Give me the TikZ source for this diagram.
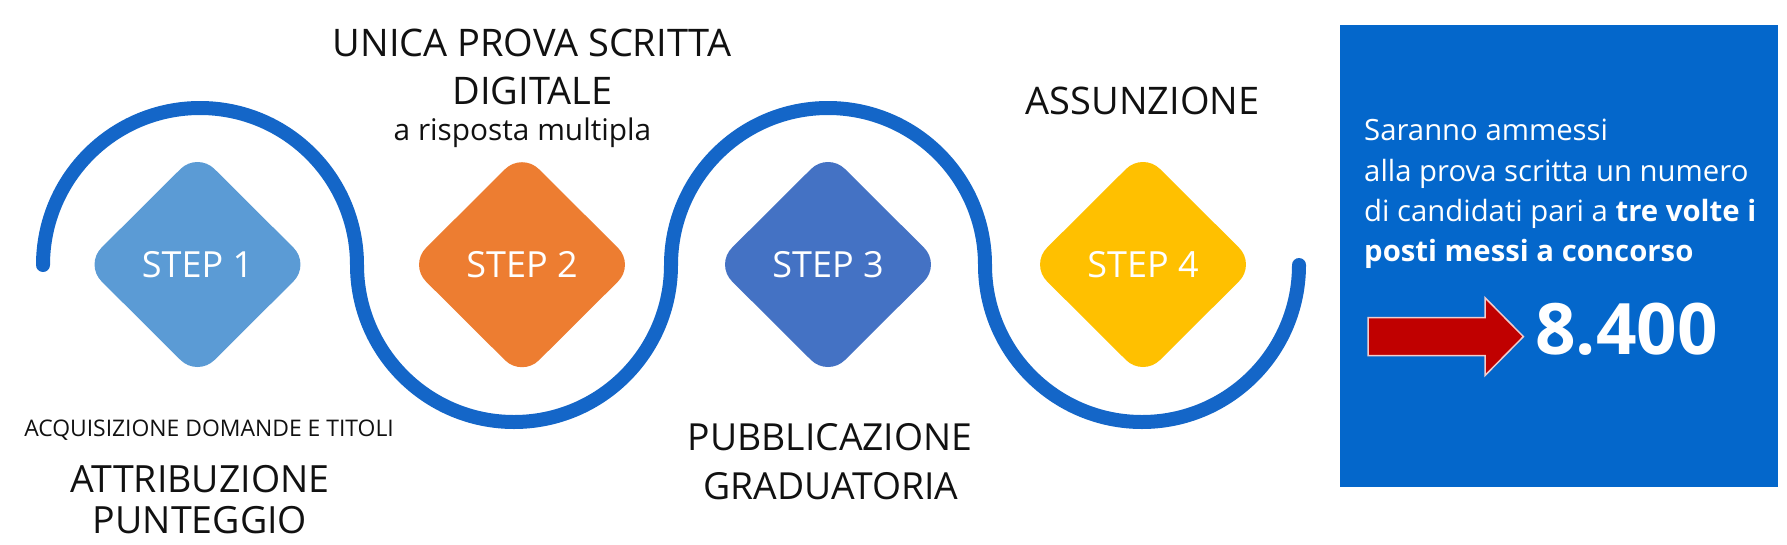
\documentclass[tikz,border=0pt]{standalone}
\usepackage{fontspec}
\setmainfont{Open Sans}
\usetikzlibrary{shapes.geometric}
\definecolor{wavecol}{HTML}{1466C8}
\definecolor{boxcol}{HTML}{0467CB}
\definecolor{stepa}{HTML}{5B9BD5}
\definecolor{stepb}{HTML}{ED7D31}
\definecolor{stepc}{HTML}{4472C4}
\definecolor{stepd}{HTML}{FFC000}
\definecolor{arrowred}{HTML}{C00000}
\definecolor{labelcol}{HTML}{111111}
\newcommand{\pxsize}[1]{\fontsize{#1pt}{#1pt}\selectfont}
\begin{document}
\begin{tikzpicture}[x=1pt,y=-1pt,
  stepbox/.style={diamond, rounded corners=24pt, minimum width=226pt, minimum height=225pt,
    inner sep=0pt, text=white, font=\pxsize{36}},
  lbl/.style={anchor=base, text=labelcol, inner sep=0pt},
  bigl/.style={lbl, font=\pxsize{38}},
  boxl/.style={anchor=base west, text=white, inner sep=0pt, font=\pxsize{29.3}},
  wave/.style={draw=wavecol, line width=14pt, line cap=round},
  panel/.style={fill=boxcol, draw=none, minimum width=438.5pt, minimum height=462pt, inner sep=0pt},
  redarrow/.style={fill=arrowred, draw=white!80!arrowred, line width=1.5pt, line join=miter}
]
\useasboundingbox (0,0) rectangle (1787,544);

% wave
\coordinate (w0) at (43,265);
\coordinate (w1) at (200,108);
\coordinate (w2) at (357,265);
\coordinate (w3) at (514,422);
\coordinate (w4) at (671,265);
\coordinate (w5) at (828,108);
\coordinate (w6) at (985,265);
\coordinate (w7) at (1142,422);
\coordinate (w8) at (1299,265);
\draw[wave] (w0) .. controls (43,178.3) and (113.3,108) .. (w1)
  .. controls (286.7,108) and (357,178.3) .. (w2)
  .. controls (357,351.7) and (427.3,422) .. (w3)
  .. controls (600.7,422) and (671,351.7) .. (w4)
  .. controls (671,178.3) and (741.3,108) .. (w5)
  .. controls (914.7,108) and (985,178.3) .. (w6)
  .. controls (985,351.7) and (1055.3,422) .. (w7)
  .. controls (1228.7,422) and (1299,351.7) .. (w8);

% diamonds
\node[stepbox, fill=stepa] (s1) at (197.5,264.5) {STEP 1};
\node[stepbox, fill=stepb] (s2) at (522,264.7) {STEP 2};
\node[stepbox, fill=stepc] (s3) at (828,264.5) {STEP 3};
\node[stepbox, fill=stepd] (s4) at (1143,264.5) {STEP 4};

% labels
\node[bigl] (t2a) at (532,56) {UNICA PROVA SCRITTA};
\node[bigl] (t2b) at (532.5,104) {DIGITALE};
\node[lbl, font=\pxsize{29.8}] (t2c) at (522.5,140.5) {a risposta multipla};
\node[bigl] (t4) at (1142.5,114.5) {ASSUNZIONE};
\node[lbl, font=\pxsize{22.9}] (t1a) at (209,436) {ACQUISIZIONE DOMANDE E TITOLI};
\node[lbl, font=\pxsize{37.5}] (t1b) at (200,492) {ATTRIBUZIONE};
\node[lbl, font=\pxsize{37.5}] (t1c) at (200,533) {PUNTEGGIO};
\node[lbl, font=\pxsize{37.3}] (t3a) at (830,450) {PUBBLICAZIONE};
\node[lbl, font=\pxsize{37.3}] (t3b) at (831,499) {GRADUATORIA};

% info panel
\node[panel] (box) at (1558.75,256) {};
\node[boxl] (l1) at (1364,140.5) {Saranno ammessi};
\node[boxl] (l2) at (1364,181) {alla prova scritta un numero};
\node[boxl] (l3) at (1364,221.5) {di candidati pari a \textbf{tre volte i}};
\node[boxl] (l4) at (1364,261.5) {\textbf{posti messi a concorso}};
\draw[redarrow] (1368,317.5) -- (1485,317.5) -- (1485,297.7) -- (1523.4,336.6)
  -- (1485,375.5) -- (1485,355.7) -- (1368,355.7) -- cycle;
\node[anchor=base, text=white, inner sep=0pt, font=\bfseries\pxsize{71}] (num) at (1626.5,354) {8.400};
\end{tikzpicture}
\end{document}
